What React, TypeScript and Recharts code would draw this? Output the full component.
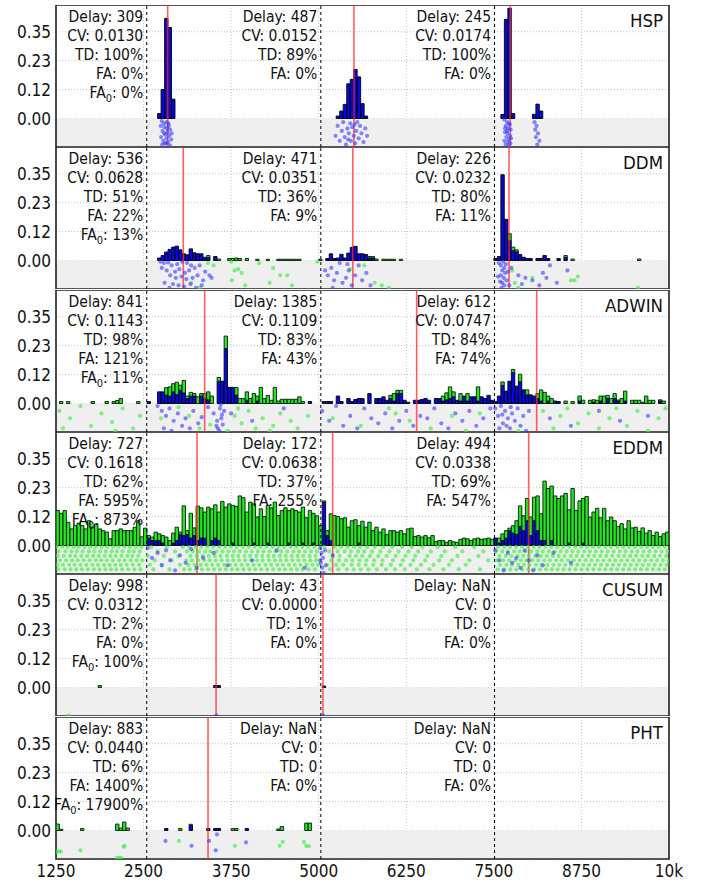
import React from 'react';
import {
  ComposedChart,
  Bar,
  Scatter,
  XAxis,
  YAxis,
  CartesianGrid,
  ReferenceLine,
  ReferenceArea,
} from 'recharts';

const FONT = "'DejaVu Sans Condensed', 'DejaVu Sans', sans-serif";

// axes
const xTicks = [1250, 2500, 3750, 5000, 6250, 7500, 8750, 10000];
const yTicks = [0, 0.1167, 0.2333, 0.35];
const X_DOMAIN = [1250, 10000];
const Y_DOMAIN = [-0.115, 0.458];
const driftAt = [2545, 5030, 7510];
const BIN = 50; // histogram bins of 50 samples, starting at 1250

// ---- HSP ----
// [bin, blue, green]
const hspBars = [
  [29, 0.02, 0], [30, 0.117, 0], [31, 0.404, 0], [32, 0.367, 0], [33, 0.078, 0],
  [80, 0.01, 0], [81, 0.03, 0], [82, 0.057, 0], [83, 0.14, 0], [84, 0.158, 0],
  [85, 0.198, 0], [86, 0.168, 0], [87, 0.06, 0], [88, 0.01, 0],
  [127, 0.016, 0], [128, 0.4, 0], [129, 0.445, 0], [130, 0.02, 0],
  [136, 0.017, 0], [137, 0.058, 0], [138, 0.03, 0],
];
const hspRed = [2844, 5503, 7735];
const hspBluePts = [
  [2760, -0.01], [2790, -0.02], [2830, -0.015], [2860, -0.03], [2800, -0.035], [2880, -0.045],
  [2770, -0.05], [2840, -0.055], [2810, -0.065], [2870, -0.07], [2750, -0.075], [2825, -0.08],
  [2895, -0.085], [2780, -0.09], [2850, -0.095], [2805, -0.1], [2765, -0.105], [2875, -0.108],
  [2835, -0.04], [2795, -0.06], [2855, -0.02], [2820, -0.1], [2745, -0.03], [2900, -0.06],
  [5240, -0.07], [5270, -0.03], [5300, -0.09], [5330, -0.05], [5350, -0.015], [5370, -0.075],
  [5390, -0.105], [5410, -0.04], [5430, -0.06], [5450, -0.02], [5460, -0.09], [5480, -0.035],
  [5500, -0.07], [5520, -0.1], [5535, -0.05], [5550, -0.015], [5570, -0.08], [5590, -0.03],
  [5610, -0.06], [5640, -0.095], [5665, -0.04], [5690, -0.07], [5420, -0.085], [5510, -0.025],
  [7650, -0.005], [7690, -0.015], [7720, -0.02], [7670, -0.03], [7705, -0.04], [7740, -0.045],
  [7660, -0.055], [7695, -0.06], [7730, -0.07], [7680, -0.075], [7715, -0.085], [7650, -0.09],
  [7700, -0.095], [7735, -0.1], [7670, -0.105], [7710, -0.11], [7690, -0.05], [7725, -0.025],
  [7745, -0.08], [7660, -0.04],
  [8080, -0.015], [8110, -0.03], [8090, -0.045], [8130, -0.06], [8100, -0.075], [8150, -0.09], [8120, -0.105],
];
const hspStats = {
  delay: ['309', '487', '245'], cv: ['0.0130', '0.0152', '0.0174'],
  td: ['100%', '89%', '100%'], fa: ['0%', '0%', '0%'], fa0: '0%',
};

// ---- DDM ----
const ddmBars = [
  [29, 0.01, 0], [30, 0.02, 0], [31, 0.034, 0], [32, 0.045, 0], [33, 0.054, 0], [34, 0.058, 0],
  [35, 0.043, 0], [36, 0.027, 0], [37, 0.023, 0], [38, 0.047, 0], [39, 0.031, 0], [40, 0.027, 0],
  [41, 0.027, 0], [42, 0.013, 0], [43, 0.012, 0.008], [45, 0.016, 0], [46, 0, 0.006],
  [49, 0, 0.008], [50, 0, 0.008], [51, 0, 0.01], [52, 0, 0.008], [54, 0, 0.008], [57, 0, 0.005],
  [60, 0, 0.005], [63, 0, 0.005], [64, 0, 0.005], [65, 0, 0.005], [66, 0, 0.005], [67, 0, 0.005],
  [68, 0, 0.005], [69, 0, 0.005], [75, 0, 0.005],
  [77, 0.008, 0], [78, 0.027, 0], [79, 0.008, 0], [80, 0.01, 0], [81, 0.025, 0], [82, 0.01, 0],
  [83, 0.03, 0], [84, 0.053, 0], [85, 0.057, 0], [86, 0.027, 0], [87, 0.027, 0], [88, 0.024, 0],
  [89, 0.01, 0.006], [90, 0.01, 0.006], [91, 0, 0.006], [93, 0, 0.005], [94, 0, 0.005],
  [95, 0, 0.005], [96, 0, 0.005], [98, 0, 0.005],
  [125, 0.008, 0], [126, 0.016, 0], [127, 0.346, 0], [128, 0.166, 0], [129, 0.08, 0.028],
  [130, 0.04, 0.014], [131, 0.035, 0.008], [132, 0.024, 0], [133, 0.013, 0], [134, 0.008, 0],
  [135, 0.008, 0], [137, 0.008, 0], [138, 0.008, 0], [139, 0.02, 0], [140, 0.008, 0],
  [143, 0.008, 0], [145, 0.012, 0.008], [147, 0, 0.006], [166, 0, 0.006],
];
const ddmRed = [3067, 5487, 7716];
const ddmBluePts = [
  [2740, -0.005], [2790, -0.01], [2850, -0.008], [2900, -0.02], [2760, -0.03], [2980, -0.015],
  [3050, -0.005], [3120, -0.01], [3180, -0.02], [2830, -0.04], [2950, -0.045], [3010, -0.035],
  [3090, -0.05], [3150, -0.04], [3230, -0.03], [3300, -0.02], [3380, -0.045], [3440, -0.06],
  [2880, -0.06], [2960, -0.07], [3040, -0.065], [3110, -0.075], [3200, -0.07], [3270, -0.06],
  [3350, -0.08], [2800, -0.09], [2920, -0.095], [3000, -0.1], [3080, -0.105], [3170, -0.095],
  [3250, -0.11], [2870, -0.11], [3330, -0.1], [3470, -0.07],
  [5090, -0.04], [5130, -0.06], [5180, -0.03], [5220, -0.08], [5260, -0.05], [5300, -0.01],
  [5340, -0.09], [5390, -0.07], [5430, -0.04], [5470, -0.1], [5520, -0.06], [5570, -0.02],
  [5620, -0.08], [5680, -0.05], [5740, -0.1], [5200, -0.11], [5410, -0.015],
  [7570, -0.01], [7600, -0.02], [7630, -0.005], [7650, -0.03], [7620, -0.04], [7660, -0.05],
  [7600, -0.06], [7640, -0.07], [7680, -0.08], [7620, -0.09], [7650, -0.1], [7610, -0.11],
  [7670, -0.015], [7590, -0.085], [7700, -0.045], [7560, -0.065], [7720, -0.1], [7750, -0.03],
  [7850, -0.06], [7950, -0.07], [8050, -0.08], [8150, -0.1], [8250, -0.07], [8300, -0.02],
  [8400, -0.09], [8200, -0.05], [8550, -0.04], [7900, -0.095],
];
const ddmGreenPts = [
  [3420, -0.01], [3500, -0.02], [3180, -0.09], [3300, -0.11], [3750, -0.005], [3800, -0.04],
  [3850, -0.035], [3900, -0.05], [3760, -0.08], [3950, -0.1], [4150, -0.01], [4350, -0.03],
  [4450, -0.06], [4550, -0.06], [4300, -0.09], [4620, -0.1], [4980, -0.005],
  [5450, -0.035], [5650, -0.02], [5800, -0.09], [5900, -0.1], [6000, -0.11],
  [7760, -0.04], [7800, -0.09], [7850, -0.11], [8050, -0.07], [8600, -0.08], [8650, -0.08],
  [8700, -0.065], [9560, -0.11],
];
const ddmStats = {
  delay: ['536', '471', '226'], cv: ['0.0628', '0.0351', '0.0232'],
  td: ['51%', '36%', '80%'], fa: ['22%', '9%', '11%'], fa0: '13%',
};

// ---- ADWIN ----
const adwinBars = [
  [1, 0, 0.008], [3, 0, 0.008], [10, 0, 0.008], [14, 0, 0.008], [16, 0, 0.008], [17, 0, 0.012],
  [18, 0, 0.02], [23, 0, 0.008], [26, 0.008, 0],
  [29, 0.047, 0], [30, 0.047, 0], [31, 0.034, 0.03], [32, 0.03, 0.037], [33, 0.047, 0.033],
  [34, 0.036, 0.05], [35, 0.054, 0.02], [36, 0.043, 0.05], [37, 0.02, 0.01], [38, 0.03, 0.015],
  [39, 0.03, 0.01], [40, 0, 0.027], [41, 0.03, 0.01], [42, 0.02, 0.02], [43, 0.015, 0.032],
  [44, 0, 0.03], [46, 0.09, 0.015], [47, 0.09, 0], [48, 0.222, 0.05], [49, 0.065, 0],
  [50, 0.065, 0], [51, 0.034, 0.031], [52, 0, 0.02], [53, 0, 0.02], [54, 0.013, 0.034],
  [55, 0, 0.02], [56, 0, 0.04], [57, 0.01, 0.02], [58, 0, 0.065], [59, 0, 0.02], [60, 0, 0.033],
  [61, 0, 0.013], [62, 0, 0.065], [63, 0, 0.01], [64, 0, 0.017], [65, 0, 0.017], [66, 0, 0.017],
  [67, 0, 0.017], [68, 0, 0.017], [69, 0, 0.027], [70, 0, 0.008], [72, 0.008, 0],
  [76, 0.008, 0], [77, 0.008, 0], [78, 0.008, 0], [80, 0.03, 0], [81, 0.008, 0], [83, 0.02, 0],
  [84, 0.008, 0], [85, 0.016, 0], [86, 0.02, 0], [87, 0.02, 0], [89, 0.04, 0], [91, 0.02, 0],
  [92, 0.02, 0], [93, 0.027, 0], [94, 0.013, 0], [95, 0.02, 0.013], [96, 0.01, 0.03],
  [97, 0.04, 0.013], [98, 0.04, 0.013], [99, 0.013, 0], [100, 0.005, 0], [102, 0.013, 0],
  [103, 0.013, 0], [104, 0.016, 0], [105, 0.02, 0], [106, 0.013, 0], [108, 0.02, 0],
  [109, 0.02, 0], [110, 0.01, 0.02], [111, 0.015, 0.028], [112, 0.02, 0.047], [113, 0.027, 0.02],
  [114, 0.013, 0], [115, 0.01, 0.03], [116, 0.03, 0], [117, 0.01, 0.03], [118, 0.027, 0],
  [119, 0.027, 0], [120, 0.01, 0.057], [121, 0.027, 0], [122, 0.02, 0], [123, 0.033, 0],
  [124, 0.013, 0], [125, 0.008, 0],
  [126, 0.03, 0], [127, 0.073, 0.014], [128, 0.05, 0], [129, 0.09, 0], [130, 0.125, 0.012],
  [131, 0.07, 0], [132, 0.088, 0.03], [133, 0.055, 0], [134, 0.035, 0.02], [135, 0.035, 0],
  [136, 0.03, 0], [137, 0.02, 0.02], [138, 0.01, 0.045], [139, 0, 0.045], [140, 0.01, 0.02],
  [141, 0, 0.02], [142, 0.01, 0], [143, 0.008, 0], [145, 0, 0.01], [147, 0, 0.008],
  [149, 0.01, 0.02], [150, 0, 0.013], [152, 0, 0.013], [153, 0.005, 0.01], [154, 0, 0.013],
  [155, 0.01, 0.02], [156, 0, 0.03], [157, 0.02, 0.013], [158, 0, 0.02], [159, 0.02, 0.02],
  [160, 0.01, 0.004], [161, 0, 0.02], [162, 0.01, 0.04], [164, 0, 0.013], [165, 0, 0.013],
  [166, 0, 0.013], [167, 0, 0.005], [168, 0, 0.03], [169, 0, 0.013], [170, 0, 0.013],
  [172, 0.01, 0.005], [173, 0, 0.01],
];
const adwinRed = [3372, 6398, 8111];
const adwinBluePts = [
  [2700, -0.01], [2760, -0.03], [2820, -0.05], [2870, -0.02], [2930, -0.07], [2990, -0.04],
  [3050, -0.09], [3100, -0.06], [3160, -0.1], [3210, -0.03], [3280, -0.08], [2790, -0.1],
  [2900, -0.11], [3330, -0.055], [3420, -0.015], [3500, -0.04], [3550, -0.07], [3560, -0.1],
  [3590, -0.02], [3610, -0.06], [3630, -0.085], [3650, -0.03], [3580, -0.11], [3620, -0.045],
  [3540, -0.09], [3600, -0.005], [3750, -0.04], [4050, -0.07], [4500, -0.02],
  [5050, -0.03], [5150, -0.07], [5250, -0.01], [5350, -0.09], [5450, -0.05], [5550, -0.1],
  [5650, -0.02], [5750, -0.06], [5850, -0.08], [5950, -0.04], [6050, -0.1], [6150, -0.07],
  [6250, -0.03], [6350, -0.09], [6450, -0.05], [6550, -0.06], [6650, -0.02], [6750, -0.08],
  [6850, -0.1], [6950, -0.04], [7050, -0.07], [7150, -0.03], [7250, -0.09], [7350, -0.06],
  [7450, -0.02],
  [7520, -0.02], [7560, -0.05], [7600, -0.01], [7630, -0.08], [7660, -0.03], [7700, -0.06],
  [7730, -0.1], [7760, -0.04], [7800, -0.07], [7840, -0.02], [7880, -0.09], [7920, -0.05],
  [7960, -0.11], [8000, -0.03], [7680, -0.09], [7580, -0.1], [7740, -0.015], [7620, -0.045],
  [8300, -0.06], [8600, -0.09], [9000, -0.03], [9300, -0.07], [9700, -0.05],
];
const adwinGreenPts = [
  [1300, -0.03], [1450, -0.06], [1600, -0.01], [1750, -0.09], [1900, -0.04], [2050, -0.075],
  [2200, -0.02], [2350, -0.1], [2450, -0.05], [1350, -0.1], [2100, -0.11],
  [2750, -0.06], [3000, -0.015], [3150, -0.05], [3300, -0.1], [3450, -0.085], [3700, -0.11],
  [3800, -0.05], [3900, -0.08], [4000, -0.03], [4100, -0.1], [4200, -0.06], [4350, -0.09],
  [4450, -0.04], [4600, -0.07], [4700, -0.1], [4850, -0.05], [3850, -0.02], [4300, -0.11],
  [5200, -0.06], [5600, -0.09], [6000, -0.02], [6300, -0.07], [6600, -0.1], [6900, -0.05],
  [7100, -0.11], [7300, -0.04], [6100, -0.04],
  [8200, -0.03], [8350, -0.1], [8450, -0.05], [8550, -0.02], [8700, -0.08], [8850, -0.04],
  [9000, -0.1], [9150, -0.06], [9250, -0.02], [9400, -0.09], [9550, -0.03], [9700, -0.11],
  [9850, -0.06], [9950, -0.02], [7850, -0.11],
];
const adwinStats = {
  delay: ['841', '1385', '612'], cv: ['0.1143', '0.1109', '0.0747'],
  td: ['98%', '83%', '84%'], fa: ['121%', '43%', '74%'], fa0: '11%',
};

// ---- EDDM ----
// total bar height for every bin 0..174
const eddmTotal = [
  0.141, 0.13, 0.141, 0.094, 0.067, 0.081, 0.09, 0.081, 0.067, 0.1,
  0.074, 0.087, 0.067, 0.06, 0.054, 0.027, 0.06, 0.06, 0.067, 0.06,
  0.06, 0.06, 0.074, 0.1, 0.035, 0.07, 0.04, 0.034, 0.054, 0.047,
  0.04, 0.034, 0.02, 0.05, 0.074, 0.054, 0.16, 0.06, 0.13, 0.071,
  0.159, 0.152, 0.135, 0.155, 0.148, 0.164, 0.135, 0.178, 0.155, 0.168,
  0.162, 0.158, 0.2, 0.193, 0.135, 0.175, 0.168, 0.115, 0.148, 0.117,
  0.162, 0.152, 0.175, 0.121, 0.141, 0.152, 0.141, 0.148, 0.141, 0.135,
  0.155, 0.112, 0.141, 0.13, 0.12, 0.08, 0.18, 0.06, 0.128, 0.121,
  0.117, 0.108, 0.112, 0.074, 0.1, 0.104, 0.08, 0.098, 0.074, 0.094,
  0.06, 0.074, 0.054, 0.067, 0.044, 0.06, 0.06, 0.054, 0.06, 0.047,
  0.067, 0.07, 0.036, 0.04, 0.034, 0.04, 0.031, 0.04, 0.016, 0.02,
  0.02, 0.013, 0.02, 0.015, 0.013, 0.025, 0.03, 0.027, 0.02, 0.027,
  0.03, 0.025, 0.027, 0.03, 0.025, 0.03, 0.03, 0.047, 0.06, 0.07,
  0.08, 0.1, 0.16, 0.12, 0.19, 0.115, 0.195, 0.2, 0.128, 0.26,
  0.23, 0.24, 0.2, 0.19, 0.2, 0.21, 0.144, 0.23, 0.142, 0.18,
  0.19, 0.198, 0.115, 0.135, 0.15, 0.112, 0.15, 0.1, 0.115, 0.1,
  0.077, 0.088, 0.067, 0.1, 0.071, 0.074, 0.057, 0.071, 0.05, 0.06,
  0.04, 0.054, 0.036, 0.047, 0.054,
];
// [bin, blue part]
const eddmBlue = [
  [26, 0.03], [27, 0.02], [28, 0.02], [29, 0.02], [30, 0.01], [33, 0.01], [34, 0.02], [35, 0.045],
  [36, 0.04], [37, 0.045], [38, 0.03], [39, 0.04], [40, 0.02], [41, 0.03], [42, 0.03], [44, 0.02],
  [45, 0.03], [46, 0.02], [50, 0.01], [56, 0.01], [60, 0.01], [66, 0.01], [70, 0.01], [73, 0.01],
  [76, 0.175], [77, 0.04], [78, 0.02], [86, 0.01], [125, 0.03], [126, 0.01], [127, 0.02],
  [128, 0.03], [129, 0.06], [130, 0.05], [131, 0.045], [132, 0.077], [133, 0.06], [134, 0.1],
  [135, 0.04], [136, 0.1], [137, 0.06], [138, 0.02], [139, 0.02], [141, 0.02], [146, 0.01], [150, 0.01],
];
const eddmRed = [3263, 5199, 7997];
const eddmGreenRows = [
  { y: -0.006, xs: [1262, 1340, 1415, 1500, 1572, 1660, 1738, 1815, 1902, 1980, 2065, 2140, 2228, 2305, 2390, 2470, 2610, 2830, 3060, 3150, 3240, 3322, 3410, 3495, 3580, 3668, 3745, 3830, 3915, 4002, 4088, 4170, 4255, 4340, 4428, 4510, 4598, 4680, 4765, 4850, 4938, 5080, 5230, 5320, 5410, 5505, 5590, 5690, 5800, 5920, 6050, 6190, 6330, 6480, 6700, 6950, 7220, 7560, 7650, 7730, 7815, 7900, 7985, 8070, 8150, 8235, 8320, 8405, 8490, 8575, 8660, 8745, 8830, 8915, 9000, 9090, 9170, 9260, 9345, 9430, 9515, 9600, 9690, 9770, 9855, 9940] },
  { y: -0.024, xs: [1290, 1385, 1470, 1548, 1630, 1722, 1800, 1880, 1960, 2045, 2118, 2200, 2290, 2360, 2445, 2700, 2950, 3120, 3205, 3290, 3380, 3455, 3540, 3625, 3710, 3790, 3875, 3960, 4045, 4130, 4210, 4300, 4385, 4465, 4550, 4640, 4720, 4805, 4890, 4975, 5150, 5270, 5370, 5460, 5560, 5650, 5760, 5880, 6010, 6140, 6280, 6420, 6600, 6800, 7050, 7350, 7530, 7620, 7700, 7790, 7870, 7950, 8030, 8120, 8200, 8285, 8370, 8455, 8540, 8620, 8705, 8790, 8870, 8955, 9040, 9125, 9210, 9300, 9380, 9470, 9550, 9640, 9720, 9810, 9895, 9975] },
  { y: -0.042, xs: [1275, 1360, 1450, 1525, 1610, 1695, 1780, 1860, 1945, 2025, 2100, 2185, 2270, 2340, 2425, 2560, 2790, 3000, 3170, 3260, 3345, 3430, 3515, 3600, 3690, 3770, 3850, 3940, 4020, 4110, 4195, 4280, 4360, 4445, 4530, 4615, 4700, 4780, 4870, 4955, 5200, 5300, 5440, 5530, 5620, 5730, 5850, 5970, 6100, 6240, 6380, 6550, 6750, 6980, 7280, 7580, 7670, 7750, 7840, 7920, 8000, 8090, 8170, 8255, 8340, 8425, 8510, 8600, 8680, 8765, 8850, 8935, 9020, 9105, 9190, 9280, 9360, 9445, 9530, 9620, 9700, 9790, 9870, 9960] },
  { y: -0.06, xs: [1305, 1395, 1480, 1560, 1645, 1730, 1820, 1895, 1975, 2060, 2150, 2230, 2315, 2400, 2480, 2660, 2900, 3110, 3190, 3280, 3365, 3445, 3530, 3615, 3700, 3780, 3865, 3950, 4035, 4120, 4200, 4290, 4375, 4455, 4540, 4625, 4710, 4795, 4880, 4960, 5180, 5290, 5390, 5480, 5580, 5680, 5790, 5910, 6060, 6200, 6350, 6520, 6720, 6900, 7150, 7420, 7545, 7635, 7720, 7805, 7885, 7965, 8050, 8135, 8220, 8300, 8390, 8470, 8560, 8640, 8725, 8810, 8895, 8980, 9065, 9150, 9235, 9320, 9405, 9490, 9575, 9660, 9745, 9830, 9915, 9990] },
  { y: -0.078, xs: [1270, 1350, 1440, 1515, 1600, 1685, 1770, 1850, 1935, 2015, 2095, 2175, 2260, 2345, 2435, 2590, 2760, 3020, 3140, 3230, 3315, 3400, 3480, 3565, 3650, 3735, 3815, 3900, 3985, 4070, 4150, 4240, 4320, 4410, 4490, 4575, 4660, 4740, 4825, 4910, 4990, 5120, 5250, 5350, 5470, 5570, 5670, 5780, 5900, 6030, 6170, 6310, 6460, 6640, 6860, 7100, 7590, 7680, 7760, 7850, 7930, 8010, 8100, 8180, 8265, 8350, 8435, 8520, 8605, 8690, 8775, 8860, 8945, 9030, 9115, 9200, 9285, 9370, 9455, 9540, 9625, 9710, 9795, 9880, 9965] },
  { y: -0.096, xs: [1285, 1375, 1460, 1540, 1620, 1705, 1790, 1870, 1955, 2035, 2110, 2195, 2280, 2370, 2455, 2640, 2870, 3080, 3160, 3250, 3335, 3420, 3505, 3590, 3675, 3760, 3840, 3925, 4010, 4095, 4180, 4265, 4350, 4435, 4520, 4605, 4690, 4770, 4855, 4945, 5160, 5280, 5400, 5500, 5600, 5710, 5830, 5960, 6090, 6230, 6400, 6580, 6780, 7000, 7300, 7555, 7645, 7735, 7820, 7905, 7990, 8075, 8160, 8245, 8330, 8410, 8495, 8580, 8665, 8750, 8835, 8920, 9005, 9090, 9175, 9260, 9345, 9430, 9515, 9600, 9685, 9770, 9855, 9940] },
];
const eddmBluePts = [
  [2560, -0.01], [2620, -0.05], [2700, -0.03], [2760, -0.08], [2820, -0.02], [2880, -0.06],
  [2950, -0.1], [3020, -0.04], [3100, -0.07], [3180, -0.015], [3260, -0.09], [3350, -0.05],
  [3500, -0.03], [3700, -0.08], [4050, -0.06], [4400, -0.02], [4800, -0.09],
  [5020, -0.01], [5040, -0.03], [5060, -0.05], [5030, -0.07], [5050, -0.09], [5070, -0.11],
  [5090, -0.02], [5020, -0.06], [5100, -0.08], [5200, -0.04],
  [7520, -0.02], [7580, -0.06], [7640, -0.1], [7700, -0.03], [7760, -0.07], [7820, -0.05],
  [7880, -0.09], [7940, -0.02], [8000, -0.06], [8060, -0.1], [8120, -0.04], [8200, -0.08],
  [8350, -0.03], [8600, -0.07],
];
const eddmStats = {
  delay: ['727', '172', '494'], cv: ['0.1618', '0.0638', '0.0338'],
  td: ['62%', '37%', '69%'], fa: ['595%', '255%', '547%'], fa0: '873%',
};

// ---- CUSUM ----
const cusumBars = [[12, 0, 0.008], [45, 0.008, 0], [46, 0.008, 0], [76, 0.006, 0]];
const cusumRed = [3535, 5061];
const cusumBluePts = [[3540, -0.112], [5060, -0.112]];
const cusumGreenPts = [[1430, -0.112]];
const cusumStats = {
  delay: ['998', '43', 'NaN'], cv: ['0.0312', '0.0000', '0'],
  td: ['2%', '1%', '0'], fa: ['0%', '0%', '0%'], fa0: '100%',
};

// ---- PHT ----
const phtBars = [
  [0, 0, 0.026], [1, 0, 0.005], [7, 0, 0.008], [17, 0, 0.026], [18, 0, 0.01], [19, 0, 0.034],
  [20, 0, 0.01], [31, 0.008, 0], [35, 0, 0.008], [38, 0.02, 0.005], [43, 0.008, 0],
  [45, 0.008, 0], [46, 0.008, 0], [50, 0, 0.008], [51, 0, 0.008], [54, 0.008, 0],
  [63, 0, 0.006], [64, 0, 0.016], [71, 0, 0.03], [72, 0, 0.03],
];
const phtRed = [3420];
const phtBluePts = [[2813, -0.042], [3184, -0.062], [3434, -0.042], [3548, -0.016], [3530, -0.08], [3962, -0.048]];
const phtGreenPts = [
  [1262, -0.085], [1290, -0.085], [1320, -0.085], [1600, -0.08], [2120, -0.11], [2150, -0.11],
  [2180, -0.11], [2226, -0.062], [2215, -0.066], [3005, -0.042], [3803, -0.062], [4442, -0.062],
  [4487, -0.046], [4790, -0.046], [4820, -0.062], [4860, -0.064],
];
const phtStats = {
  delay: ['883', 'NaN', 'NaN'], cv: ['0.0440', '0', '0'],
  td: ['6%', '0', '0'], fa: ['1400%', '0%', '0%'], fa0: '17900%',
};

// ---- helpers ----
const binX = (k: number) => X_DOMAIN[0] + BIN * k + BIN / 2;
const sparseRows = (bars: number[][]) => bars.map(([k, b, g]) => ({ x: binX(k), blue: b, green: g }));
const pts = (a: number[][]) => a.map(([x, y]) => ({ x, y }));

const eddmBlueMap = new Map(eddmBlue.map(([k, b]) => [k, b]));
const eddmRows = eddmTotal.map((t, k) => {
  const b = eddmBlueMap.get(k) ?? 0;
  return { x: binX(k), blue: b, green: Math.max(0, +(t - b).toFixed(3)) };
});
const eddmGreenPts = eddmGreenRows.flatMap((r) => r.xs.map((x) => ({ x, y: r.y })));

const panels = [
  { name: 'HSP', rows: sparseRows(hspBars), bluePts: pts(hspBluePts), greenPts: [], red: hspRed, stats: hspStats },
  { name: 'DDM', rows: sparseRows(ddmBars), bluePts: pts(ddmBluePts), greenPts: pts(ddmGreenPts), red: ddmRed, stats: ddmStats },
  { name: 'ADWIN', rows: sparseRows(adwinBars), bluePts: pts(adwinBluePts), greenPts: pts(adwinGreenPts), red: adwinRed, stats: adwinStats },
  { name: 'EDDM', rows: eddmRows, bluePts: pts(eddmBluePts), greenPts: eddmGreenPts, red: eddmRed, stats: eddmStats },
  { name: 'CUSUM', rows: sparseRows(cusumBars), bluePts: pts(cusumBluePts), greenPts: pts(cusumGreenPts), red: cusumRed, stats: cusumStats },
  { name: 'PHT', rows: sparseRows(phtBars), bluePts: pts(phtBluePts), greenPts: pts(phtGreenPts), red: phtRed, stats: phtStats },
];

const blueDot = (p: any) => <circle cx={p.cx} cy={p.cy} r={2.1} fill="#3a3aff" fillOpacity={0.6} />;
const greenDot = (p: any) => <circle cx={p.cx} cy={p.cy} r={2.1} fill="#3cf03c" fillOpacity={0.65} />;

const StatBlock = (props: any) => {
  const vb = props.viewBox || {};
  const x = (vb.x ?? vb.x1) - 3.5;
  const y0 = vb.y ?? Math.min(vb.y1, vb.y2);
  const { stats, idx } = props;
  const lines = [
    `Delay: ${stats.delay[idx]}`,
    `CV: ${stats.cv[idx]}`,
    `TD: ${stats.td[idx]}`,
    `FA: ${stats.fa[idx]}`,
  ];
  const txt = { textAnchor: 'end' as const, fontSize: 15.5, fontFamily: FONT, fill: '#111' };
  return (
    <g>
      {lines.map((ln, i) => (
        <text key={i} x={x} y={y0 + 17 + 19 * i} {...txt}>{ln}</text>
      ))}
      {idx === 0 && (
        <text x={x} y={y0 + 17 + 19 * 4} {...txt}>
          <tspan>FA</tspan>
          <tspan fontSize={11} dy={4}>0</tspan>
          <tspan dy={-4}>{`: ${stats.fa0}`}</tspan>
        </text>
      )}
    </g>
  );
};

const PanelTitle = (props: any) => {
  const vb = props.viewBox || {};
  return (
    <text x={vb.x + vb.width - 6} y={vb.y + 22} textAnchor="end" fontSize={18.5} fontFamily={FONT} fill="#111">
      {props.text}
    </text>
  );
};

const PLOT_H = 142;

function Panel({ cfg, showX }: { cfg: any; showX: boolean }) {
  const axisH = showX ? 26 : 0;
  return (
    <ComposedChart
      width={701}
      height={PLOT_H + axisH}
      data={cfg.rows}
      margin={{ top: 0, right: 32, bottom: 0, left: 0 }}
    >
      <CartesianGrid stroke="#c2c2c2" strokeDasharray="1 2" />
      <XAxis
        dataKey="x"
        type="number"
        domain={X_DOMAIN}
        allowDataOverflow
        ticks={xTicks}
        interval={0}
        hide={!showX}
        height={axisH}
        axisLine={false}
        tickLine={false}
        tickSize={4}
        tickMargin={2}
        tickFormatter={(v: number) => (v === 10000 ? '10k' : String(v))}
        tick={{ fontSize: 17, fill: '#111', fontFamily: FONT }}
      />
      <XAxis xAxisId="pts" dataKey="x" type="number" domain={X_DOMAIN} allowDataOverflow hide />
      <YAxis
        type="number"
        domain={Y_DOMAIN}
        allowDataOverflow
        ticks={yTicks}
        interval={0}
        width={56}
        axisLine={false}
        tickLine={false}
        tickSize={3}
        tickMargin={2}
        tickFormatter={(v: number) => v.toFixed(2)}
        tick={{ fontSize: 17, fill: '#111', fontFamily: FONT }}
      />
      <ReferenceArea y1={Y_DOMAIN[0]} y2={0} fill="#efefef" fillOpacity={1} stroke="none" />
      <Bar dataKey="blue" stackId="h" fill="#0808dc" stroke="#000" strokeWidth={0.9} barSize={3.4} isAnimationActive={false} />
      <Bar dataKey="green" stackId="h" fill="#22e622" stroke="#0a1a0a" strokeWidth={0.9} barSize={3.4} isAnimationActive={false} />
      {cfg.greenPts.length > 0 && (
        <Scatter xAxisId="pts" data={cfg.greenPts} dataKey="y" shape={greenDot} isAnimationActive={false} />
      )}
      {cfg.bluePts.length > 0 && (
        <Scatter xAxisId="pts" data={cfg.bluePts} dataKey="y" shape={blueDot} isAnimationActive={false} />
      )}
      {cfg.red.map((x: number) => (
        <ReferenceLine key={'r' + x} x={x} stroke="#ff2a2a" strokeOpacity={0.75} strokeWidth={1.6} />
      ))}
      {driftAt.map((x, j) => (
        <ReferenceLine
          key={'d' + x}
          x={x}
          stroke="#000"
          strokeDasharray="3 3"
          strokeWidth={1}
          label={<StatBlock stats={cfg.stats} idx={j} />}
        />
      ))}
      <ReferenceArea
        x1={X_DOMAIN[0]}
        x2={X_DOMAIN[1]}
        y1={Y_DOMAIN[0]}
        y2={Y_DOMAIN[1]}
        fill="none"
        stroke="#222"
        strokeWidth={1.6}
        label={<PanelTitle text={cfg.name} />}
      />
    </ComposedChart>
  );
}

export default function App() {
  return (
    <div style={{ position: 'absolute', left: 0, top: 0, width: 701, height: 881, background: '#fff' }}>
      {panels.map((p, i) => (
        <div key={p.name} style={{ position: 'absolute', left: 0, top: 5 + i * 142.3 }}>
          <Panel cfg={p} showX={i === panels.length - 1} />
        </div>
      ))}
    </div>
  );
}
